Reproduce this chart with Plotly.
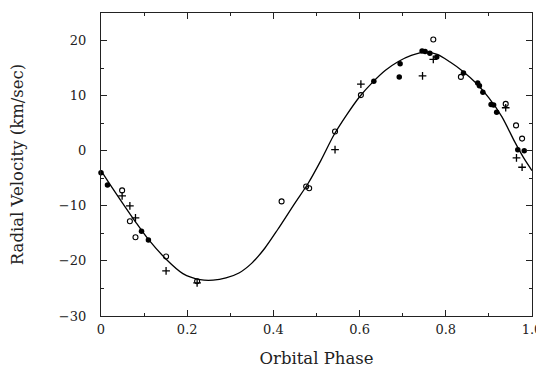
import plotly.graph_objects as go

# Fitted orbit curve
curve_phase = [0.0, 0.02, 0.05, 0.08, 0.11, 0.15, 0.19, 0.23, 0.26, 0.29, 0.32, 0.35, 0.38, 0.41,
               0.45, 0.48, 0.51, 0.54, 0.57, 0.60, 0.63, 0.66, 0.69, 0.72, 0.75, 0.78, 0.81,
               0.84, 0.87, 0.90, 0.93, 0.96, 0.98, 1.0]
curve_rv = [-3.6, -6.0, -9.5, -12.9, -16.1, -19.6, -22.3, -23.4, -23.5, -23.1, -22.2, -20.4, -17.7, -14.3,
            -9.5, -6.0, -1.8, 2.8, 6.5, 9.8, 12.4, 14.6, 16.2, 17.3, 17.9, 17.5, 16.1,
            14.4, 12.3, 9.6, 6.2, 1.6, -1.2, -3.6]

# Filled circles
filled_phase = [0.0, 0.015, 0.094, 0.110, 0.633, 0.694, 0.692, 0.745, 0.752, 0.763, 0.779, 0.841,
                0.874, 0.878, 0.886, 0.905, 0.911, 0.918, 0.967, 0.982]
filled_rv = [-4.0, -6.2, -14.6, -16.2, 12.6, 15.8, 13.4, 18.1, 18.0, 17.7, 17.0, 14.1,
             12.3, 11.8, 10.6, 8.4, 8.3, 7.0, 0.2, 0.0]

# Open circles
open_phase = [0.049, 0.067, 0.080, 0.151, 0.223, 0.419, 0.476, 0.483, 0.543, 0.603, 0.771, 0.835,
              0.939, 0.963, 0.977]
open_rv = [-7.2, -12.8, -15.7, -19.2, -23.7, -9.2, -6.5, -6.8, 3.5, 10.1, 20.2, 13.4,
           8.5, 4.6, 2.2]

# Plus signs
plus_phase = [0.049, 0.067, 0.080, 0.151, 0.223, 0.543, 0.603, 0.746, 0.771, 0.939, 0.964, 0.977]
plus_rv = [-8.2, -10.0, -12.2, -21.8, -24.0, 0.2, 12.1, 13.6, 16.6, 7.8, -1.3, -3.0]

x_ticks = [0, 0.2, 0.4, 0.6, 0.8, 1.0]
x_tick_text = ["0", "0.2", "0.4", "0.6", "0.8", "1.0"]
y_ticks = [-30, -20, -10, 0, 10, 20]

FONT = "DejaVu Serif"
INK = "#222222"

fig = go.Figure()
fig.add_trace(go.Scatter(x=curve_phase, y=curve_rv, mode="lines", line=dict(color="black", width=1.3, shape="spline", smoothing=0.8),
                         hoverinfo="skip", showlegend=False))
fig.add_trace(go.Scatter(x=filled_phase, y=filled_rv, mode="markers",
                         marker=dict(symbol="circle", size=5.5, color="black"), showlegend=False, cliponaxis=False))
fig.add_trace(go.Scatter(x=open_phase, y=open_rv, mode="markers",
                         marker=dict(symbol="circle-open", size=5, color="black", line=dict(width=1.1)),
                         showlegend=False, cliponaxis=False))
fig.add_trace(go.Scatter(x=plus_phase, y=plus_rv, mode="markers",
                         marker=dict(symbol="cross-thin-open", size=5.5, color="black", line=dict(width=1.3, color="black")),
                         showlegend=False, cliponaxis=False))

axis_common = dict(showgrid=False, zeroline=False, showline=True, linecolor=INK, linewidth=1.2,
                   mirror="ticks", ticks="inside", ticklen=6, tickwidth=1, tickcolor=INK,
                   tickfont=dict(family=FONT, size=13, color=INK), automargin=False)

fig.update_xaxes(range=[0, 1], tickvals=x_ticks, ticktext=x_tick_text,
                 minor=dict(ticks="inside", dtick=0.1, tick0=0, ticklen=3, tickcolor=INK),
                 title=dict(text="Orbital Phase", font=dict(family=FONT, size=16.5, color=INK), standoff=23),
                 ticklabelstandoff=1, **axis_common)
fig.update_yaxes(range=[-30, 25], tickvals=y_ticks,
                 minor=dict(ticks="inside", dtick=5, tick0=0, ticklen=3, tickcolor=INK),
                 title=dict(text="Radial Velocity (km/sec)", font=dict(family=FONT, size=16.5, color=INK), standoff=33),
                 ticklabelstandoff=11, **axis_common)

# page body adds an 8 px offset, so the figure is drawn 8 px smaller
fig.update_layout(width=536, height=360, margin=dict(l=93, r=12, t=5, b=52),
                  plot_bgcolor="white", paper_bgcolor="white")

fig.write_html("out.html")
